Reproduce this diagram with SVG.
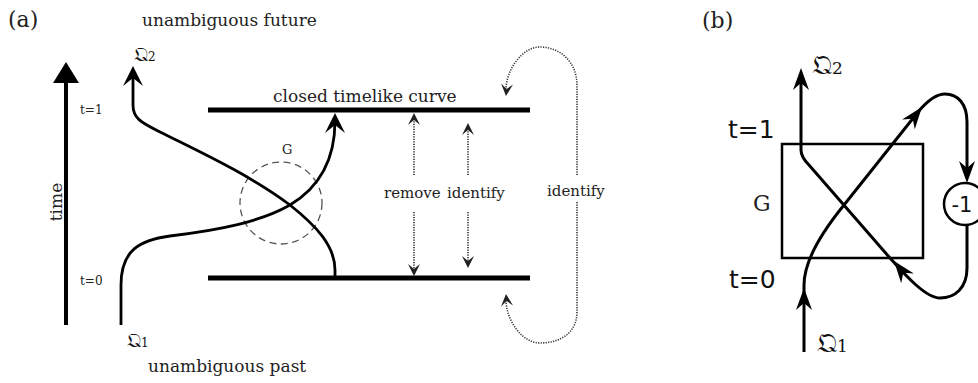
<svg xmlns="http://www.w3.org/2000/svg" xmlns:xlink="http://www.w3.org/1999/xlink" width="978" height="383" viewBox="0 0 978 383">
<style>
.serif{font-family:"DejaVu Serif","Liberation Serif",serif;fill:#222}
.sans{font-family:"DejaVu Sans","Liberation Sans",sans-serif;fill:#111}
.frak{font-family:"DejaVu Serif","DejaVu Sans","Noto Sans",serif;fill:#111}
.thick{fill:none;stroke:#000;stroke-width:2.8}
.bar{fill:none;stroke:#000;stroke-width:5}
.dot{fill:none;stroke:#333;stroke-width:1.6;stroke-dasharray:1.2 1.3}
.bl{fill:none;stroke:#000;stroke-width:3}
.ah{fill:#000}
.ahd{fill:#222}
</style>
<defs>
<path id="ahA" d="M0,0 L-20,-10 L-12,0 L-20,10 Z"/>
<path id="ahB" d="M0,0 L-22,-8 L-15,0 L-22,8 Z"/>
<path id="ahD" d="M0,0 L-12,-6 L-7,0 L-12,6 Z"/>
</defs>

<g id="panel-a-labels">
<text class="serif" x="8" y="27" font-size="22">(a)</text>
<text class="serif" x="142" y="26" font-size="17">unambiguous future</text>
<text class="serif" x="148" y="372" font-size="17">unambiguous past</text>
<text class="serif" font-size="17" text-anchor="middle" transform="translate(62,202) rotate(-90)">time</text>
<text class="serif" x="80" y="114" font-size="12">t=1</text>
<text class="serif" x="80" y="285" font-size="12">t=0</text>
</g>

<g id="time-axis">
<line x1="66" y1="325" x2="66" y2="80" stroke="#000" stroke-width="4"/>
<polygon points="53,83 79,83 66,62" fill="#000"/>
</g>

<g id="ctc-top">
<line class="bar" x1="208" y1="110" x2="530" y2="110"/>
<text class="serif" x="273" y="102" font-size="17">closed timelike curve</text>
</g>
<g id="ctc-bottom">
<line class="bar" x1="208" y1="278" x2="530" y2="278"/>
</g>

<g id="gate-a">
<circle cx="281" cy="203" r="41" fill="none" stroke="#555" stroke-width="1.3" stroke-dasharray="7 4.5"/>
<text class="serif" x="282" y="154" font-size="13">G</text>
</g>

<g id="q-labels-a">
<text class="frak" x="134" y="61" font-size="19">𝔔<tspan font-size="12">2</tspan></text>
<text class="frak" x="127" y="347" font-size="19">𝔔<tspan font-size="12">1</tspan></text>
</g>

<g id="connectors-a">
<path class="thick" d="M121,325 L121,285 C121,250 140,240 170,236 C220,230 260,222 290,205 C315,190 335,165 335,121"/>
<use href="#ahA" class="ah" transform="translate(335,113) rotate(-90)"/>
<path class="thick" d="M335,278 L335,270 C335,245 315,225 290,205 C250,175 200,152 160,132 C140,122 133,118 133,105 L133,74"/>
<use href="#ahA" class="ah" transform="translate(133,66) rotate(-90)"/>
<path class="dot" d="M414,175 L414,119"/>
<use href="#ahD" class="ahd" transform="translate(414,113) rotate(-90)"/>
<path class="dot" d="M414,212 L414,270"/>
<use href="#ahD" class="ahd" transform="translate(414,276) rotate(90)"/>
<path class="dot" d="M468,175 L468,129"/>
<use href="#ahD" class="ahd" transform="translate(468,123) rotate(-90)"/>
<path class="dot" d="M468,212 L468,262"/>
<use href="#ahD" class="ahd" transform="translate(468,268) rotate(90)"/>
<path class="dot" d="M577,175 L577,85 C577,62 560,47 540,47 C522,47 506,70 506,90"/>
<use href="#ahD" class="ahd" transform="translate(506,96) rotate(95)"/>
<path class="dot" d="M577,202 L577,312 C577,333 560,343 540,343 C522,343 506,320 506,300"/>
<use href="#ahD" class="ahd" transform="translate(506,294) rotate(-95)"/>
</g>

<g id="connector-labels-a">
<text class="serif" x="384" y="198" font-size="15">remove</text>
<text class="serif" x="447" y="198" font-size="15">identify</text>
<text class="serif" x="547" y="196" font-size="15">identify</text>
</g>

<g id="panel-b-labels">
<text class="serif" x="702" y="28" font-size="22">(b)</text>
<text class="sans" x="728" y="138" font-size="25">t=1</text>
<text class="sans" x="729" y="288" font-size="25">t=0</text>
<text class="frak" x="812" y="74" font-size="27">𝔔<tspan font-size="17">2</tspan></text>
<text class="frak" x="817" y="352" font-size="27">𝔔<tspan font-size="17">1</tspan></text>
</g>

<g id="gate-b">
<rect x="782" y="144" width="141" height="114" fill="none" stroke="#000" stroke-width="2.5"/>
<text class="serif" x="753" y="211" font-size="22" fill="#000">G</text>
</g>

<g id="phase-node">
<circle cx="965" cy="204" r="21" fill="#fff" stroke="#000" stroke-width="2.5"/>
<text class="sans" x="962" y="212" font-size="21" text-anchor="middle">-1</text>
</g>

<g id="connectors-b">
<path class="bl" d="M804,352 L804,285 C804,262 822,232 844,205 L918,112 C928,100 936,94 945,94 C958,94 967,104 967,122 L967,176"/>
<use href="#ahB" class="ah" transform="translate(804,288) rotate(-90)"/>
<use href="#ahB" class="ah" transform="translate(922,107) rotate(-52)"/>
<use href="#ahB" class="ah" transform="translate(967,183) rotate(90)"/>
<path class="bl" d="M967,225 L967,268 C967,288 955,298 940,298 C926,298 906,276 890,258 L809,165 Q801,157 801,150 L801,76"/>
<use href="#ahB" class="ah" transform="translate(894,261) rotate(-128)"/>
<use href="#ahB" class="ah" transform="translate(801,68) rotate(-90)"/>
</g>
</svg>
